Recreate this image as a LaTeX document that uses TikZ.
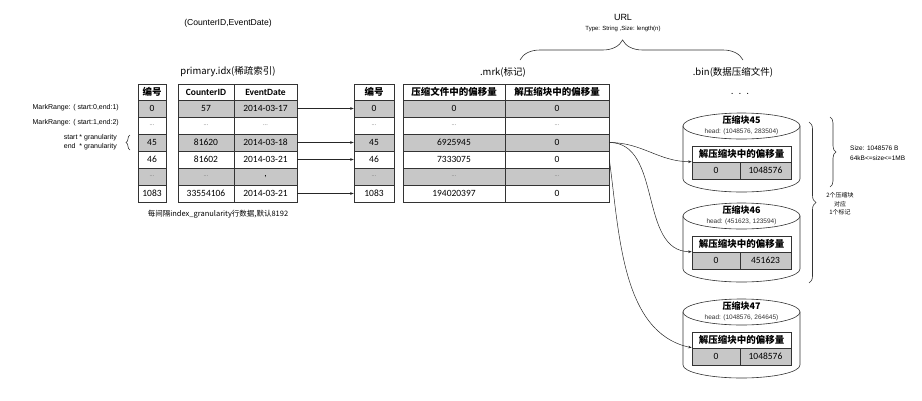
\documentclass[tikz,border=0pt]{standalone}
\usepackage{fontspec}
\setmainfont{Liberation Sans}
\newfontfamily\cjk{Noto Sans CJK SC}
\newfontfamily\tabf{Carlito}
\usetikzlibrary{decorations.pathreplacing,arrows.meta}
\begin{document}
\begin{tikzpicture}[x=1pt,y=1pt,
  line/.style={draw=black!80, line width=0.6pt},
  cell/.style={line, inner sep=0pt, minimum height=17pt, anchor=center, font=\tabf\fontsize{9.5}{11}\selectfont},
  hcell/.style={cell, minimum height=16pt, fill=white},
  lbl/.style={inner sep=0pt, font=\fontsize{7}{8}\selectfont},
  conn/.style={draw=black!85, line width=0.5pt, -{Stealth[length=3.5pt,width=2.6pt]}},
  brc/.style={draw=black!80, line width=0.6pt, decorate},
  cyl/.style={fill=white, draw=black!80, line width=0.6pt}
]
\useasboundingbox (0,0) rectangle (922,-400);
\def\dd{\textcolor{black!55}{\fontsize{6}{6}\selectfont ...}}

% ---------- top labels ----------
\node[inner sep=0pt, font=\fontsize{8.6}{9}\selectfont] (key) at (228,-23) {(CounterID,EventDate)};
\node[inner sep=0pt, font=\cjk\fontsize{9.5}{11}\selectfont] (idxt) at (228,-72) {primary.idx(稀疏索引)};
\node[inner sep=0pt, font=\cjk\fontsize{9.5}{11}\selectfont] (mrkt) at (503,-72) {.mrk(标记)};
\node[inner sep=0pt, font=\cjk\fontsize{9.5}{11}\selectfont] (bint) at (733,-72) {.bin(数据压缩文件)};
\node[inner sep=0pt, font=\fontsize{9}{10}\selectfont] (url) at (623,-17) {URL};
\node[inner sep=0pt, font=\fontsize{6}{7}\selectfont] (urlt) at (623,-29) {Type: String ,Size: length(n)};
\node[inner sep=0pt, font=\fontsize{10}{10}\selectfont] (dots) at (740,-94) {.\hspace{5pt}.\hspace{5pt}.};
\draw[brc, decoration={brace, amplitude=20pt, aspect=0.46}] (520,-60) -- (743,-60);

% ---------- primary.idx table ----------
\node[hcell, minimum width=28pt] (ia0) at (152,-92) {\cjk\bfseries 编号};
\node[hcell, minimum width=56pt, font=\tabf\bfseries\fontsize{9.5}{11}\selectfont] (ib0) at (206,-92) {CounterID};
\node[hcell, minimum width=63pt, font=\tabf\bfseries\fontsize{9.5}{11}\selectfont] (ic0) at (265.5,-92) {EventDate};
\foreach \i/\y/\fc/\a/\b/\c in {
  1/108.5/black!22/0/57/2014-03-17,
  2/125.5/white/\dd/\dd/\dd,
  3/142.5/black!22/45/81620/2014-03-18,
  4/159.5/white/46/81602/2014-03-21,
  5/176.5/black!22/\dd/\dd/{,},
  6/193.5/white/1083/33554106/2014-03-21}{
  \node[cell, fill=\fc, minimum width=28pt] (ia\i) at (152,-\y) {\a};
  \node[cell, fill=\fc, minimum width=56pt] (ib\i) at (206,-\y) {\b};
  \node[cell, fill=\fc, minimum width=63pt] (ic\i) at (265.5,-\y) {\c};
}
\node[inner sep=0pt, font=\cjk\fontsize{7.5}{9}\selectfont] (cap) at (218,-214) {每间隔index\_granularity行数据,默认8192};

% ---------- mark range labels ----------
\node[lbl, anchor=east] (mr1) at (119,-108) {MarkRange: ( start:0,end:1)};
\node[lbl, anchor=east] (mr2) at (119,-123) {MarkRange: ( start:1,end:2)};
\node[lbl, anchor=east] (sg) at (117,-138) {start * granularity};
\node[lbl, anchor=east] (eg) at (117,-147) {end \ * granularity};
\draw[brc, decoration={brace, amplitude=4pt}] (130,-150) -- (130,-135);

% ---------- .mrk table ----------
\node[hcell, minimum width=40pt] (ma0) at (374,-92) {\cjk\bfseries 编号};
\node[hcell, minimum width=102pt] (mb0) at (454,-92) {\cjk\bfseries 压缩文件中的偏移量};
\node[hcell, minimum width=104pt] (mc0) at (557,-92) {\cjk\bfseries 解压缩块中的偏移量};
\foreach \i/\y/\fc/\a/\b/\c in {
  1/108.5/black!22/0/0/0,
  2/125.5/white/\dd/\dd/\dd,
  3/142.5/black!22/45/6925945/0,
  4/159.5/white/46/7333075/0,
  5/176.5/black!22/\dd/\dd/\dd,
  6/193.5/white/1083/194020397/0}{
  \node[cell, fill=\fc, minimum width=40pt] (ma\i) at (374,-\y) {\a};
  \node[cell, fill=\fc, minimum width=102pt] (mb\i) at (454,-\y) {\b};
  \node[cell, fill=\fc, minimum width=104pt] (mc\i) at (557,-\y) {\c};
}
\foreach \i in {1,3,4,6}{ \draw[conn] (ic\i.east) -- (ma\i.west); }

% ---------- cylinders ----------
\foreach \n/\T/\hd/\v in {45/113/{1048576, 283504}/1048576, 46/203/{451623, 123594}/451623, 47/299/{1048576, 264645}/1048576}{
  \pgfmathsetmacro\ct{-(\T+13)}
  \pgfmathsetmacro\cb{-(\T+66)}
  \filldraw[cyl] (683,\ct) -- (683,\cb) arc[start angle=180, end angle=360, x radius=58.5pt, y radius=13pt] -- (800,\ct) -- cycle;
  \draw[cyl] (741.5,\ct) ellipse [x radius=58.5pt, y radius=13pt];
  \node[inner sep=0pt, font=\cjk\bfseries\fontsize{9}{10}\selectfont] (t\n) at (741.5,-\T-7) {压缩块\n};
  \node[inner sep=0pt, font=\fontsize{6.5}{7}\selectfont, text=black!80] (hd\n) at (741.5,-\T-19) {head: (\hd)};
  \node[hcell, minimum width=99pt] (zh\n) at (741.5,-\T-41) {\cjk\bfseries 解压缩块中的偏移量};
  \node[cell, fill=black!22, minimum width=48pt] (za\n) at (716,-\T-57.5) {0};
  \node[cell, fill=black!22, minimum width=51pt] (zb\n) at (765.5,-\T-57.5) {\v};
}

% ---------- curves ----------
\draw[conn] (mc3.east) to[out=0, in=180] (za45.north west);
\draw[conn] (mc3.east) to[out=0, in=180] (za46.north west);
\draw[conn] (mc4.east) to[out=-82, in=168, looseness=0.9] (za47.north west);

% ---------- right braces ----------
\draw[brc, decoration={brace, amplitude=6pt}] (830,-117) -- (830,-187);
\draw[brc, decoration={brace, amplitude=7pt}] (809,-122) -- (809,-283);
\node[inner sep=0pt, anchor=west, align=left, font=\fontsize{6.5}{9.5}\selectfont] (sz) at (850,-153) {Size: 1048576 B\\64kB<=size<=1MB};
\node[inner sep=0pt, align=center, font=\cjk\fontsize{6}{8.5}\selectfont] (cnt) at (840,-204) {2个压缩块\\对应\\1个标记};
\end{tikzpicture}
\end{document}
